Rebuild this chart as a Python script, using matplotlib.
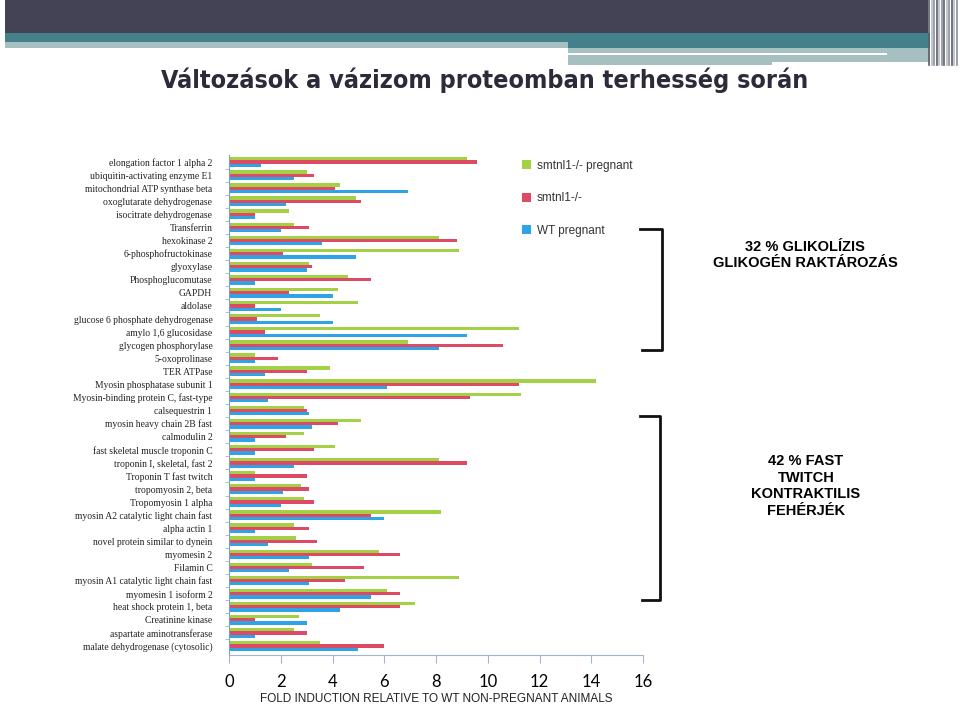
import matplotlib.pyplot as plt
import matplotlib.patches as mpatches
from matplotlib.lines import Line2D
import numpy as np

# adatok
proteins = ['elongation factor 1 alpha 2', 'ubiquitin-activating enzyme E1',
            'mitochondrial ATP synthase beta', 'oxoglutarate dehydrogenase',
            'isocitrate dehydrogenase', 'Transferrin', 'hexokinase 2',
            '6-phosphofructokinase', 'glyoxylase', 'Phosphoglucomutase', 'GAPDH',
            'aldolase', 'glucose 6 phosphate dehydrogenase', 'amylo 1,6 glucosidase',
            'glycogen phosphorylase', '5-oxoprolinase', 'TER ATPase',
            'Myosin phosphatase subunit 1', 'Myosin-binding protein C, fast-type',
            'calsequestrin 1', 'myosin heavy chain 2B fast', 'calmodulin 2',
            'fast skeletal muscle troponin C', 'troponin I, skeletal, fast 2',
            'Troponin T fast twitch', 'tropomyosin 2, beta', 'Tropomyosin 1 alpha',
            'myosin A2 catalytic light chain fast', 'alpha actin 1',
            'novel protein similar to dynein', 'myomesin 2', 'Filamin C',
            'myosin A1 catalytic light chain fast', 'myomesin 1 isoform 2',
            'heat shock protein 1, beta', 'Creatinine kinase',
            'aspartate aminotransferase', 'malate dehydrogenase (cytosolic)']

ko_pregnant = [9.2, 3.0, 4.3, 4.9, 2.3, 2.5, 8.1, 8.9, 3.1, 4.6, 4.2, 5.0, 3.5,
               11.2, 6.9, 1.0, 3.9, 14.2, 11.3, 2.9, 5.1, 2.9, 4.1, 8.1, 1.0, 2.8,
               2.9, 8.2, 2.5, 2.6, 5.8, 3.2, 8.9, 6.1, 7.2, 2.7, 2.5, 3.5]
ko = [9.6, 3.3, 4.1, 5.1, 1.0, 3.1, 8.8, 2.1, 3.2, 5.5, 2.3, 1.0, 1.1,
      1.4, 10.6, 1.9, 3.0, 11.2, 9.3, 3.0, 4.2, 2.2, 3.3, 9.2, 3.0, 3.1,
      3.3, 5.5, 3.1, 3.4, 6.6, 5.2, 4.5, 6.6, 6.6, 1.0, 3.0, 6.0]
wt_pregnant = [1.25, 2.5, 6.9, 2.2, 1.0, 2.0, 3.6, 4.9, 3.0, 1.0, 4.0, 2.0, 4.0,
               9.2, 8.1, 1.0, 1.4, 6.1, 1.5, 3.1, 3.2, 1.0, 1.0, 2.5, 1.0, 2.1,
               2.0, 6.0, 1.0, 1.5, 3.1, 2.3, 3.1, 5.5, 4.3, 3.0, 1.0, 5.0]

series_names = ['smtnl1-/- pregnant', 'smtnl1-/-', 'WT pregnant']
colors = ['#a3d044', '#dc4a63', '#2ea3e6']

fig = plt.figure(figsize=(9.6, 7.06), dpi=100)


def px_rect(x0, y0, w, h, c):
    # téglalap pixel-koordinátákban (bal felső sarokból)
    fig.add_artist(mpatches.Rectangle((x0 / 960, 1 - (y0 + h) / 706), w / 960, h / 706,
                                      transform=fig.transFigure, color=c, lw=0))


# fejléc sávok
px_rect(5, 0, 923, 33, '#434355')
px_rect(5, 33, 925, 9, '#44808a')
px_rect(568, 42, 362, 6, '#44808a')
px_rect(5, 42, 563, 6, '#a6bfc0')
px_rect(568, 48, 362, 14, '#a6bfc0')
px_rect(568, 62, 204, 3, '#a6bfc0')
px_rect(568, 53, 319, 2, 'white')
for i, x in enumerate(np.arange(929, 957, 2.5)):
    fig.add_artist(Line2D([x / 960, x / 960], [1 - 65 / 706, 1], transform=fig.transFigure,
                          color=['#5a5d68', '#b8bcc2', '#8a8f98'][i % 3], lw=1.2))

fig.text(0.505, 1 - 80 / 706, 'Változások a vázizom proteomban terhesség során',
         family='DejaVu Sans', fontstretch='condensed', fontweight='bold',
         fontsize=18, color='#2b2b3a', ha='center', va='center')

ax = fig.add_axes([229 / 960, 1 - 655 / 706, 414 / 960, 500 / 706])
y = np.arange(len(proteins))
h = 0.25
ax.barh(y - h, ko_pregnant, height=h, color=colors[0], label=series_names[0])
ax.barh(y, ko, height=h, color=colors[1], label=series_names[1])
ax.barh(y + h, wt_pregnant, height=h, color=colors[2], label=series_names[2])

ax.set_xlim(0, 16)
ax.set_ylim(len(proteins) - 0.31, -0.54)
ax.set_xticks(np.arange(0, 17, 2))
ax.set_xticklabels([str(v) for v in range(0, 17, 2)], family='Lato', fontsize=12)
ax.tick_params(axis='x', length=6, pad=8, color='#9fb6cc')
ax.set_yticks(y)
ax.set_yticklabels(proteins, family='Liberation Serif', fontsize=6.9, color='#222222')
ax.set_yticks(y[:-1] + 0.5, minor=True)
ax.tick_params(axis='y', which='major', length=0, pad=12)
ax.tick_params(axis='y', which='minor', length=3, color='#9fb6cc')
for s in ['top', 'right']:
    ax.spines[s].set_visible(False)
ax.spines['left'].set_color('#7f9fbf')
ax.spines['bottom'].set_color('#9fb6cc')
ax.set_xlabel('FOLD INDUCTION RELATIVE TO WT NON-PREGNANT ANIMALS',
              family='Liberation Sans', fontsize=8.5, color='#222222', labelpad=2)

leg = ax.legend(loc='upper left', bbox_to_anchor=(511 / 960, 1 - 149 / 706),
                bbox_transform=fig.transFigure, frameon=False, handlelength=0.8,
                handleheight=0.8, labelspacing=1.75, handletextpad=0.5,
                prop={'family': 'Liberation Sans', 'size': 8.5})
for t in leg.get_texts():
    t.set_color('#333333')

# zárójelek
for top, bot, xv in [(229, 350, 662), (416, 600, 660)]:
    fig.add_artist(Line2D([640 / 960, xv / 960, xv / 960, 642 / 960],
                          [1 - top / 706, 1 - top / 706, 1 - bot / 706, 1 - bot / 706],
                          transform=fig.transFigure, color='#111111', lw=2))

fig.text(805 / 960, 1 - 255 / 706, '32 % GLIKOLÍZIS\nGLIKOGÉN RAKTÁROZÁS',
         family='Liberation Sans', fontweight='bold', fontsize=10.5, ha='center',
         va='center', linespacing=1.25)
fig.text(806 / 960, 1 - 486 / 706, '42 % FAST\nTWITCH\nKONTRAKTILIS\nFEHÉRJÉK',
         family='Liberation Sans', fontweight='bold', fontsize=10.5, ha='center',
         va='center', linespacing=1.25)

fig.savefig('out.png', dpi=100)
